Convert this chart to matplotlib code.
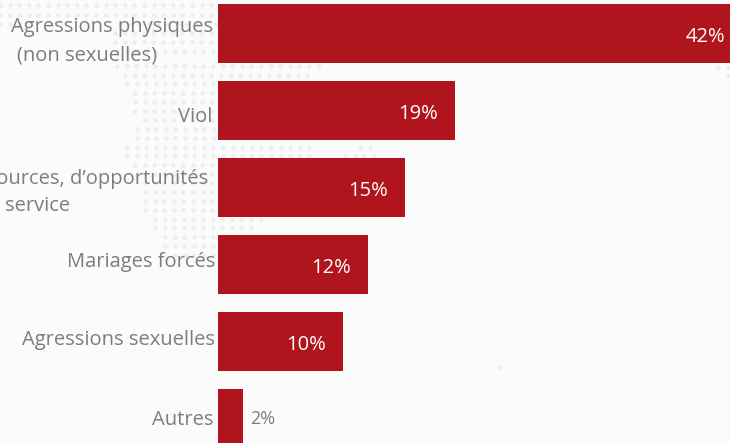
import numpy as np
import matplotlib
matplotlib.use("Agg")
import matplotlib.pyplot as plt

plt.rcParams['font.family'] = ['Open Sans', 'DejaVu Sans']

categories = ["Agressions physiques\n(non sexuelles)", "Viol",
              "Déni de ressources, d’opportunités\nservice",
              "Mariages forcés", "Agressions sexuelles", "Autres"]
values = [42, 19, 15, 12, 10, 2]
value_labels = ["42%", "19%", "15%", "12%", "10%", "2%"]

# right edge (px) of each line of each category label
label_line_right = [[213, 157], [212], [208, 70], [215], [215], [213]]
# vertical centre (px) of each line of each category label
label_line_y = [[27, 55], [117], [179, 206], [262], [340], [420]]

# background dotted-map rows: (y px, x start px, x end px)
map_rows = [(5, 0, 218), (15, 0, 218), (24, 0, 25), (24, 120, 218), (33, 115, 218),
            (42, 115, 218), (51, 117, 218), (66, 117, 318), (75, 125, 310),
            (84, 127, 218), (93, 135, 218), (102, 135, 218), (111, 135, 218),
            (120, 145, 218), (129, 137, 218), (138, 137, 218), (147, 127, 318),
            (147, 360, 378), (156, 127, 310), (156, 345, 378), (165, 135, 218),
            (174, 145, 218), (183, 145, 218), (192, 145, 218), (201, 145, 218),
            (210, 145, 218), (219, 155, 268), (228, 155, 258), (237, 165, 220),
            (246, 165, 220), (255, 175, 218), (67, 718, 728), (76, 728, 728),
            (367, 500, 500)]

BG = "#fbfbfb"
RED = "#b0141c"
GREY = "#7d7d7d"
W, H = 730, 443
X0, PX_PER_PCT = 218, 12.47
Y0, PITCH = 33.5, 77
BAR_H = 59

fig = plt.figure(figsize=(W / 100, H / 100), dpi=100, facecolor=BG)

bg = fig.add_axes([0, 0, 1, 1], zorder=0)
bg.set_xlim(0, W)
bg.set_ylim(H, 0)
bg.axis("off")
for y, xa, xb in map_rows:
    xs = np.arange(xa, xb + 1, 9.6)
    bg.scatter(xs, np.full_like(xs, y, dtype=float), s=10, marker="o",
               color="#ededed", linewidths=0, zorder=1)

ax = fig.add_axes([0, 0, 1, 1], zorder=1)
ax.patch.set_alpha(0)
ax.set_xlim(-X0 / PX_PER_PCT, (W - X0) / PX_PER_PCT)
ax.set_ylim((H - Y0) / PITCH, -Y0 / PITCH)
ax.axis("off")

pos = np.arange(len(categories))
ax.barh(pos, values, height=BAR_H / PITCH, color=RED, edgecolor="none", zorder=2)

for p, v, lab in zip(pos, values, value_labels):
    if v >= 10:
        ax.annotate(lab, (v, p), xytext=(-12.2, -2.6), textcoords="offset points",
                    ha="right", va="center", color="white", fontsize=14.5, zorder=3,
                    annotation_clip=False)
    else:
        ax.annotate(lab, (v, p), xytext=(5, 0), textcoords="offset points",
                    ha="left", va="center", color=GREY, fontsize=13, zorder=3,
                    annotation_clip=False)

for cat, rights, ys in zip(categories, label_line_right, label_line_y):
    for line, xr, yc in zip(cat.split("\n"), rights, ys):
        bg.text(xr, yc, line, ha="right", va="center", color=GREY, fontsize=14.5,
                zorder=3, clip_on=False)

fig.savefig("out.png", dpi=100, facecolor=BG)
